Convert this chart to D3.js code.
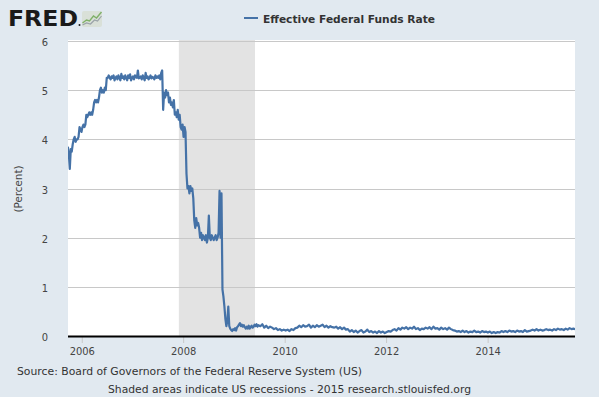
<!DOCTYPE html>
<html>
<head>
<meta charset="utf-8">
<script src="https://cdn.jsdelivr.net/npm/d3@7"></script>
<style>
  html, body { margin: 0; padding: 0; background: #e1e9f0; }
  svg { display: block; font-family: "DejaVu Sans", Verdana, sans-serif; }
</style>
</head>
<body>
<div id="chart"></div>
<script>
const seriesName = 'Effective Federal Funds Rate';
const yLabel = '(Percent)';
const sourceText = 'Source: Board of Governors of the Federal Reserve System (US)';
const noteText = 'Shaded areas indicate US recessions - 2015 research.stlouisfed.org';

// weekly readings, Sep 2005 - Jun 2009
const weeklyStart = '2005-09-23';
const weeklyRates = [
  // 2005
  3.85, 3.7, 3.4, 3.8, 3.75, 3.9, 4.0, 4.05, 3.95, 4.0, 4.0, 4.05, 4.25, 4.2, 4.15,
  // 2006
  4.25, 4.3, 4.25, 4.3, 4.5, 4.45, 4.5, 4.55, 4.5, 4.55, 4.5, 4.6, 4.75,
  4.8, 4.75, 4.8, 4.75, 4.85, 5.0, 5.05, 4.95, 5.0, 4.95, 5.05, 5.0, 5.25,
  5.25, 5.3, 5.25, 5.22, 5.28, 5.25, 5.3, 5.2, 5.25, 5.28, 5.22, 5.3, 5.25,
  5.2, 5.33, 5.25, 5.28, 5.22, 5.3, 5.25, 5.2, 5.3, 5.25, 5.32, 5.2, 5.25,
  // 2007
  5.28, 5.22, 5.3, 5.26, 5.25, 5.4, 5.24, 5.25, 5.28, 5.22, 5.3, 5.25, 5.2,
  5.35, 5.25, 5.28, 5.22, 5.25, 5.3, 5.24, 5.27, 5.25, 5.22, 5.3, 5.25, 5.28,
  5.25, 5.3, 5.22, 5.35, 5.4, 4.6, 4.95, 4.85, 5.0, 4.9, 4.95, 4.75, 4.85,
  4.7, 4.75, 4.65, 4.8, 4.5, 4.55, 4.45, 4.6, 4.4, 4.5, 4.25, 4.2, 4.3,
  // 2008
  4.05, 4.25, 4.15, 3.3, 3.0, 3.05, 2.9, 3.05, 2.95, 3.0, 2.8, 2.35, 2.2,
  2.4, 2.25, 2.3, 2.2, 2.0, 2.1, 1.95, 2.05, 2.0, 1.95, 2.05, 1.9, 2.0,
  2.45, 2.0, 1.95, 2.05, 2.0, 1.95, 2.0, 2.05, 1.95, 2.0, 2.1, 2.95, 2.0,
  2.9, 0.95, 0.8, 0.6, 0.35, 0.2, 0.3, 0.6, 0.2, 0.15, 0.12, 0.1, 0.14,
  // 2009 H1
  0.12, 0.16, 0.11, 0.18, 0.2, 0.23, 0.26, 0.2, 0.23, 0.19, 0.22, 0.18, 0.15,
  0.19, 0.15, 0.21, 0.15, 0.18, 0.21, 0.17, 0.19, 0.23, 0.2, 0.24, 0.19, 0.22
];

// every two weeks, Jul 2009 - Sep 2015
const biweeklyStart = '2009-07-10';
const biweeklyRates = [
  // 2009 H2
  0.2, 0.24, 0.17, 0.21, 0.16, 0.19, 0.17, 0.14, 0.16, 0.12, 0.14, 0.11, 0.13,
  // 2010
  0.11, 0.13, 0.1, 0.14, 0.12, 0.16, 0.17, 0.21, 0.18, 0.22, 0.19, 0.2, 0.23,
  0.17, 0.21, 0.18, 0.22, 0.19, 0.21, 0.23, 0.18, 0.21, 0.17, 0.2, 0.18, 0.17,
  // 2011
  0.19, 0.15, 0.18, 0.14, 0.17, 0.13, 0.14, 0.09, 0.12, 0.08, 0.11, 0.07, 0.1,
  0.12, 0.07, 0.09, 0.13, 0.08, 0.1, 0.07, 0.09, 0.06, 0.1, 0.07, 0.09, 0.06,
  // 2012
  0.08, 0.1, 0.09, 0.12, 0.14, 0.11, 0.16, 0.13, 0.17, 0.15, 0.18, 0.14, 0.17,
  0.15, 0.19, 0.14, 0.16, 0.12, 0.15, 0.14, 0.17, 0.15, 0.18, 0.14, 0.19, 0.15,
  // 2013
  0.16, 0.13, 0.17, 0.14, 0.16, 0.13, 0.17, 0.14, 0.12, 0.11, 0.09, 0.1, 0.08,
  0.11, 0.08, 0.1, 0.07, 0.09, 0.08, 0.11, 0.08, 0.09, 0.07, 0.1, 0.08, 0.09,
  // 2014
  0.07, 0.09, 0.06, 0.08, 0.06, 0.08, 0.07, 0.1, 0.08, 0.1, 0.08, 0.11, 0.09,
  0.1, 0.08, 0.11, 0.09, 0.1, 0.08, 0.12, 0.09, 0.1, 0.11, 0.13, 0.11, 0.14,
  // 2015
  0.11, 0.13, 0.11, 0.12, 0.14, 0.12, 0.13, 0.11, 0.14, 0.12, 0.15, 0.13,
  0.14, 0.12, 0.15, 0.13, 0.16, 0.14, 0.15, 0.14
];

const recessions = [['2007-12-01', '2009-06-01']];
const yTicks = [0, 1, 2, 3, 4, 5, 6];
const xTickYears = [2006, 2008, 2010, 2012, 2014];
const dateRange = ['2005-09-24', '2015-09-22'];

const W = 599, H = 397;
const plot = { left: 68, right: 575, top: 41, bottom: 336 };
const lineColor = '#4572a7';

const parse = d3.timeParse('%Y-%m-%d');

// squeeze Verdana-like text to the narrower face in the picture
function fitTo(sel, w) {
  sel.attr('textLength', w).attr('lengthAdjust', 'spacingAndGlyphs');
}
function squeeze(sel, k) {
  sel.each(function () {
    let w = this.getComputedTextLength();
    d3.select(this).attr('textLength', w * k).attr('lengthAdjust', 'spacingAndGlyphs');
  });
}

let svg = d3.select('#chart').append('svg')
  .attr('width', W)
  .attr('height', H);

svg.append('rect').attr('width', W).attr('height', H).attr('fill', '#e1e9f0');

let x = d3.scaleTime().domain(dateRange.map(parse)).range([plot.left, plot.right]);
let y = d3.scaleLinear().domain([0, 6]).range([plot.bottom, plot.top]);

let data = weeklyRates.map((v, i) => ({ date: d3.timeDay.offset(parse(weeklyStart), i * 7), value: v }))
  .concat(biweeklyRates.map((v, i) => ({ date: d3.timeDay.offset(parse(biweeklyStart), i * 14), value: v })));

// plot background
svg.append('rect')
  .attr('x', plot.left).attr('y', plot.top - 1)
  .attr('width', plot.right - plot.left).attr('height', plot.bottom - plot.top + 1)
  .attr('fill', '#ffffff');

svg.append('clipPath').attr('id', 'clip')
  .append('rect')
  .attr('x', plot.left).attr('y', plot.top - 10)
  .attr('width', plot.right - plot.left).attr('height', plot.bottom - plot.top + 10);

// recession bands
svg.append('g').selectAll('rect').data(recessions).enter().append('rect')
  .attr('x', d => x(parse(d[0])))
  .attr('width', d => x(parse(d[1])) - x(parse(d[0])))
  .attr('y', plot.top - 1)
  .attr('height', plot.bottom - plot.top + 1)
  .attr('fill', '#e3e3e3');

// grid lines
svg.append('g').selectAll('line').data(yTicks.filter(d => d > 0)).enter().append('line')
  .attr('x1', plot.left).attr('x2', plot.right)
  .attr('y1', d => Math.round(y(d)) + 0.5)
  .attr('y2', d => Math.round(y(d)) + 0.5)
  .attr('stroke', '#c8c8c8')
  .attr('stroke-width', 1);

// x axis
let xAxis = d3.axisBottom(x)
  .tickValues(xTickYears.map(yr => new Date(yr, 0, 1)))
  .tickFormat(d3.timeFormat('%Y'))
  .tickSize(7)
  .tickPadding(4);

let gx = svg.append('g')
  .attr('transform', 'translate(0,' + plot.bottom + ')')
  .call(xAxis);
gx.select('.domain').remove();
gx.selectAll('.tick line').attr('stroke', '#c8c8c8');
gx.selectAll('.tick text')
  .attr('fill', '#444')
  .style('font-size', '11px')
  .style('font-family', '"DejaVu Sans", Verdana, sans-serif')
  .call(squeeze, 0.9);

// y axis
let yAxis = d3.axisLeft(y)
  .tickValues(yTicks)
  .tickFormat(d3.format('d'))
  .tickSize(0)
  .tickPadding(20);

let gy = svg.append('g')
  .attr('transform', 'translate(' + plot.left + ',1)')
  .call(yAxis);
gy.select('.domain').remove();
gy.selectAll('.tick text')
  .attr('fill', '#444')
  .style('font-size', '11px')
  .style('font-family', '"DejaVu Sans", Verdana, sans-serif')
  .call(squeeze, 0.9);

// the series
let line = d3.line()
  .x(d => x(d.date))
  .y(d => y(d.value));

svg.append('path')
  .datum(data)
  .attr('clip-path', 'url(#clip)')
  .attr('d', line)
  .attr('fill', 'none')
  .attr('stroke', lineColor)
  .attr('stroke-width', 2.2)
  .attr('stroke-linejoin', 'round');

// baseline
svg.append('line')
  .attr('x1', plot.left).attr('x2', plot.right)
  .attr('y1', plot.bottom + 0.5).attr('y2', plot.bottom + 0.5)
  .attr('stroke', '#000')
  .attr('stroke-width', 2);

// y label
svg.append('text')
  .attr('transform', 'translate(22,189) rotate(-90)')
  .attr('text-anchor', 'middle')
  .attr('fill', '#444')
  .style('font-size', '11px')
  .text(yLabel)
  .call(fitTo, 47);

// legend
svg.append('line')
  .attr('x1', 244).attr('x2', 258)
  .attr('y1', 18).attr('y2', 18)
  .attr('stroke', lineColor)
  .attr('stroke-width', 2);

svg.append('text')
  .attr('x', 263).attr('y', 22.5)
  .attr('fill', '#333')
  .style('font-size', '11px')
  .style('font-weight', 'bold')
  .text(seriesName)
  .call(fitTo, 172);

// FRED logo
svg.append('text')
  .attr('x', 8).attr('y', 26)
  .attr('fill', '#1a1a1a')
  .style('font-size', '22px')
  .style('font-weight', 'bold')
  .text('FRED')
  .call(fitTo, 70);

svg.append('circle').attr('cx', 79.5).attr('cy', 25).attr('r', 1).attr('fill', '#1a1a1a');

const logoGreen = [[0, 12], [4, 9], [7, 10], [11, 5], [14, 7], [19, 1]];
const logoGray = [[0, 14], [4, 12], [8, 13], [12, 9], [15, 10], [19, 5]];
let logo = svg.append('g').attr('transform', 'translate(82,11)');
logo.append('rect').attr('width', 20).attr('height', 16).attr('rx', 2).attr('fill', '#d9e0d8');
let logoLine = d3.line().x(d => d[0] + 0.5).y(d => d[1]);
logo.append('path').attr('d', logoLine(logoGray)).attr('fill', 'none').attr('stroke', '#9aa3a8').attr('stroke-width', 1.2);
logo.append('path').attr('d', logoLine(logoGreen)).attr('fill', 'none').attr('stroke', '#7fb069').attr('stroke-width', 1.4);

// footer
svg.append('text')
  .attr('x', 17).attr('y', 375)
  .attr('fill', '#333')
  .style('font-size', '11px')
  .text(sourceText)
  .call(fitTo, 345);

svg.append('text')
  .attr('x', 108).attr('y', 393)
  .attr('fill', '#333')
  .style('font-size', '11px')
  .text(noteText)
  .call(fitTo, 363);
</script>
</body>
</html>
